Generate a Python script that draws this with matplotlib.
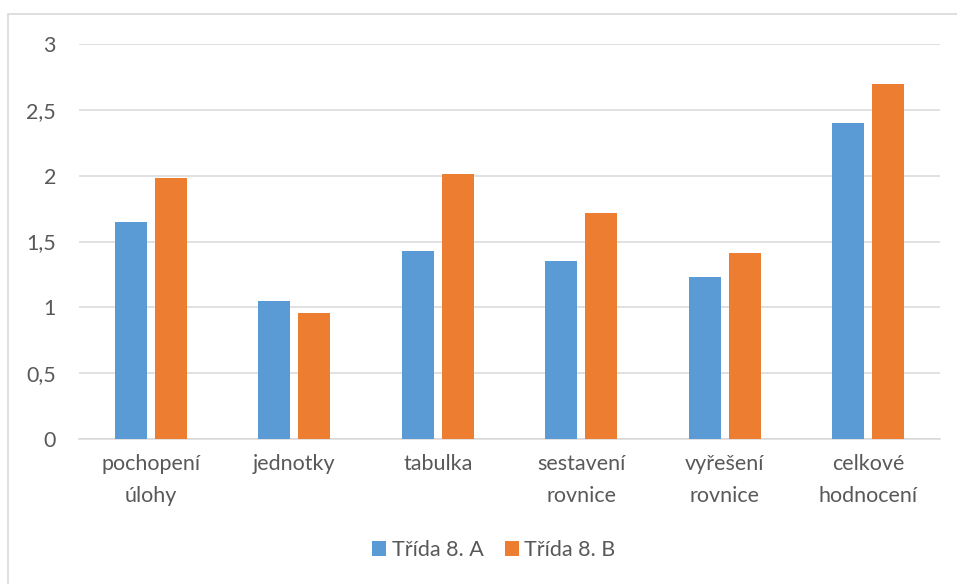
import matplotlib
matplotlib.use("Agg")
import matplotlib.pyplot as plt
from matplotlib.patches import Rectangle
import numpy as np

categories = ["pochopení\núlohy", "jednotky", "tabulka", "sestavení\nrovnice",
              "vyřešení\nrovnice", "celkové\nhodnocení"]
series_names = ["Třída 8. A", "Třída 8. B"]
class_a = [1.65, 1.05, 1.43, 1.35, 1.23, 2.40]
class_b = [1.98, 0.96, 2.01, 1.72, 1.41, 2.70]
y_ticks = [0, 0.5, 1, 1.5, 2, 2.5, 3]
y_tick_labels = ["0", "0,5", "1", "1,5", "2", "2,5", "3"]

blue = "#5B9BD5"
orange = "#ED7D31"
text_col = "#595959"
grid_col = "#D9D9D9"

plt.rcParams["font.family"] = ["Lato", "DejaVu Sans"]
FS = 15.5

W, H = 957, 584
fig = plt.figure(figsize=(W / 100, H / 100), dpi=100)

# chart area border
fig.patches.append(Rectangle((8 / W, 0 - 0.05), 1.2, (H - 14) / H + 0.05,
                             transform=fig.transFigure, fill=False,
                             edgecolor="#D9D9D9", linewidth=1.2))

ax = fig.add_axes([79 / W, 1 - 439 / H, (940 - 79) / W, (439 - 44) / H])
x = np.arange(len(categories))
bw = 0.225
off = 0.14
ax.bar(x - off, class_a, bw, color=blue, label=series_names[0], zorder=3)
ax.bar(x + off, class_b, bw, color=orange, label=series_names[1], zorder=3)

ax.set_xlim(-0.5, len(categories) - 0.5)
ax.set_ylim(0, 3)
ax.set_yticks(y_ticks)
ax.set_yticklabels(y_tick_labels)
ax.set_xticks(x)
ax.set_xticklabels(categories, linespacing=1.75)
ax.tick_params(axis="both", length=0, labelsize=FS, colors=text_col)
ax.tick_params(axis="y", pad=16.5)
ax.tick_params(axis="x", pad=11)
ax.grid(axis="y", color=grid_col, linewidth=1.1, zorder=0)
for s in ["top", "right", "left"]:
    ax.spines[s].set_visible(False)
ax.spines["bottom"].set_color(grid_col)
ax.spines["bottom"].set_linewidth(1.1)

leg = fig.legend(loc="center", bbox_to_anchor=(494 / W, 1 - 550 / H), ncol=2,
                 frameon=False, fontsize=FS, handlelength=0.65, handleheight=0.65,
                 handletextpad=0.25, columnspacing=1.0)
for t in leg.get_texts():
    t.set_color(text_col)

fig.savefig("out.png", dpi=100)
